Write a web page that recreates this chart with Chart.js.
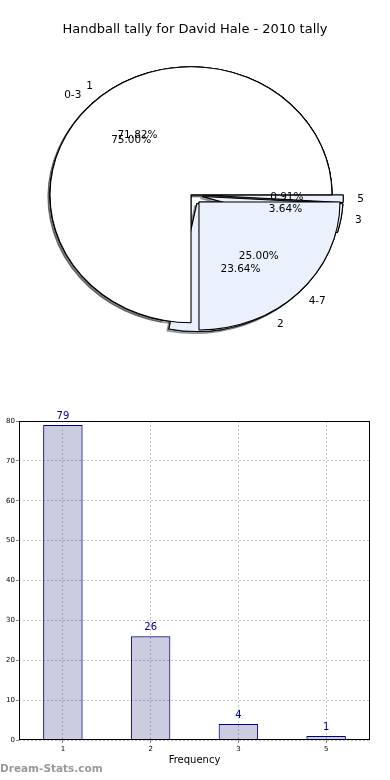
<!DOCTYPE html>
<html>
<head>
<meta charset="utf-8">
<script src="https://cdn.jsdelivr.net/npm/chart.js@4.4.0/dist/chart.umd.min.js"></script>
<style>
  body { margin: 0; background: #fff; width: 390px; height: 780px; position: relative; overflow: hidden; }
  #pieBox { position: absolute; left: 0; top: 0; width: 390px; height: 352px; }
  #barBox { position: absolute; left: 0; top: 400px; width: 390px; height: 380px; }
  #mark { position: absolute; left: 0; top: 762px; font: bold 10.5px "DejaVu Sans"; color: #999; }
</style>
</head>
<body>
<div id="pieBox"><canvas id="pieChart"></canvas></div>
<div id="barBox"><canvas id="barChart"></canvas></div>
<div id="mark">Dream-Stats.com</div>
<script>
/** Data **/
const chartTitle = "Handball tally for David Hale - 2010 tally";
const rangeLabels = ["0-3", "4-7"];
const rangeShares = [75, 25];
const tallyLabels = ["1", "2", "3", "5"];
const tallyCounts = [79, 26, 4, 1];
const yTickValues = [0, 10, 20, 30, 40, 50, 60, 70, 80];

/** Styles **/
const FONT = "DejaVu Sans";
const rangeColors = ["#ffffff", "#eaf0fc"];
const tallyColors = ["#ffffff", "#eaf0fc", "#eaf0fc", "#eaf0fc"];
const rangeExplode = [0, 0.08];
const tallyExplode = [0, 0.08, 0.08, 0.08];
const R = 128;            // vertical radius
const SX = 141 / 128;     // pie is drawn a bit wider than tall
const SHIFT_X = -4;       // pie sits a little left of the page centre

// chart.js goes clockwise, the original goes counter clockwise from 3 o'clock
const rev = (a) => a.slice().reverse();

function pieCenter(chart) {
  const a = chart.chartArea;
  return { cx: (a.left + a.right) / 2 + SHIFT_X, cy: (a.top + a.bottom) / 2 };
}

/** Plugin: lay both pies on top of each other, explode, shadow, labels **/
const pieOverlay = {
  id: "pieOverlay",
  afterDatasetsUpdate(chart) {
    const { cx, cy } = pieCenter(chart);
    chart.data.datasets.forEach((ds, i) => {
      chart.getDatasetMeta(i).data.forEach((arc, j) => {
        const mid = (arc.startAngle + arc.endAngle) / 2;
        const e = ds.explode[j] * R;
        arc.x = cx + Math.cos(mid) * e;
        arc.y = cy + Math.sin(mid) * e;
        arc.innerRadius = 0;
        arc.outerRadius = R;
      });
    });
  },
  beforeDatasetsDraw(chart) {
    const ctx = chart.ctx;
    const { cx, cy } = pieCenter(chart);
    ctx.save();
    ctx.translate(cx, cy);
    ctx.scale(SX, 1);
    ctx.translate(-cx, -cy);
    // shadows go under every wedge
    ctx.save();
    ctx.shadowColor = "rgba(77,77,77,0.5)";
    ctx.shadowOffsetX = -2;
    ctx.shadowOffsetY = 2;
    for (let i = chart.data.datasets.length - 1; i >= 0; i--) {
      chart.getDatasetMeta(i).data.forEach((arc) => arc.draw(ctx));
    }
    ctx.restore();
  },
  afterDatasetsDraw(chart) {
    const ctx = chart.ctx;
    ctx.restore();
    const { cx, cy } = pieCenter(chart);
    ctx.save();
    ctx.font = "10.5px '" + FONT + "'";
    ctx.fillStyle = "#000";
    ctx.textBaseline = "middle";
    chart.data.datasets.forEach((ds, i) => {
      const total = ds.data.reduce((s, v) => s + v, 0);
      chart.getDatasetMeta(i).data.forEach((arc, j) => {
        const mid = (arc.startAngle + arc.endAngle) / 2;
        const c = Math.cos(mid), s = Math.sin(mid);
        const e = ds.explode[j] * R;
        const px = (d) => cx + (d * R + e) * c * SX;
        const py = (d) => cy + (d * R + e) * s;
        ctx.textAlign = c >= 0 ? "left" : "right";
        ctx.fillText(ds.sliceLabels[j], px(1.1), py(1.1));
        ctx.textAlign = "center";
        ctx.fillText(((ds.data[j] / total) * 100).toFixed(2) + "%", px(0.6), py(0.6));
      });
    });
    ctx.restore();
  },
};

const pieChart = new Chart(document.getElementById("pieChart"), {
  type: "pie",
  data: {
    datasets: [
      {
        data: rev(rangeShares),
        sliceLabels: rev(rangeLabels),
        explode: rev(rangeExplode),
        backgroundColor: rev(rangeColors),
      },
      {
        data: rev(tallyCounts),
        sliceLabels: rev(tallyLabels),
        explode: rev(tallyExplode),
        backgroundColor: rev(tallyColors),
      },
    ],
  },
  options: {
    responsive: true,
    maintainAspectRatio: false,
    animation: false,
    events: [],
    rotation: 90,
    borderColor: "#000",
    borderWidth: 1,
    plugins: {
      legend: { display: false },
      tooltip: { enabled: false },
      title: {
        display: true,
        text: chartTitle,
        color: "#000",
        font: { family: FONT, size: 13, weight: "normal" },
        padding: { top: 22, bottom: 0 },
      },
    },
  },
  plugins: [pieOverlay],
});

/** Plugin: axes frame and value labels on top of bars **/
const barExtras = {
  id: "barExtras",
  afterDatasetsDraw(chart) {
    const { ctx, chartArea: a } = chart;
    ctx.save();
    ctx.strokeStyle = "#000";
    ctx.lineWidth = 1;
    ctx.strokeRect(Math.round(a.left) + 0.5, Math.round(a.top) + 0.5, Math.round(a.width) - 1, Math.round(a.height) - 1);
    ctx.fillStyle = "#00008b";
    ctx.font = "10px '" + FONT + "'";
    ctx.textAlign = "center";
    ctx.textBaseline = "middle";
    const ds = chart.data.datasets[0];
    chart.getDatasetMeta(0).data.forEach((bar, i) => {
      ctx.fillText(String(ds.data[i]), bar.x, bar.y - 9);
    });
    ctx.restore();
  },
};

const gridStyle = { color: "#c8c8c8", tickColor: "#888", tickLength: 3, offset: false };

const barChart = new Chart(document.getElementById("barChart"), {
  type: "bar",
  data: {
    labels: tallyLabels,
    datasets: [
      {
        data: tallyCounts,
        backgroundColor: "rgba(0,0,105,0.2)",
        borderColor: "#000080",
        borderWidth: 1,
        barPercentage: 0.45,
        categoryPercentage: 1,
      },
    ],
  },
  options: {
    responsive: true,
    maintainAspectRatio: false,
    animation: false,
    events: [],
    layout: { padding: { top: 21, right: 20, left: 0, bottom: 0 } },
    plugins: { legend: { display: false }, tooltip: { enabled: false } },
    scales: {
      x: {
        offset: true,
        grid: gridStyle,
        border: { display: false, dash: [2, 2] },
        ticks: { color: "#000", font: { family: FONT, size: 7 }, padding: 2, maxRotation: 0 },
        title: {
          display: true,
          text: "Frequency",
          color: "#000",
          font: { family: FONT, size: 10 },
          padding: { top: 0, bottom: 14 },
        },
        afterFit(scale) { scale.height = 40; },
      },
      y: {
        min: 0,
        max: 80,
        grid: gridStyle,
        border: { display: false, dash: [2, 2] },
        ticks: { color: "#000", font: { family: FONT, size: 7 }, padding: 1 },
        afterBuildTicks(scale) { scale.ticks = yTickValues.map((v) => ({ value: v })); },
        afterFit(scale) { scale.width = 19; },
      },
    },
  },
  plugins: [barExtras],
});
</script>
</body>
</html>
